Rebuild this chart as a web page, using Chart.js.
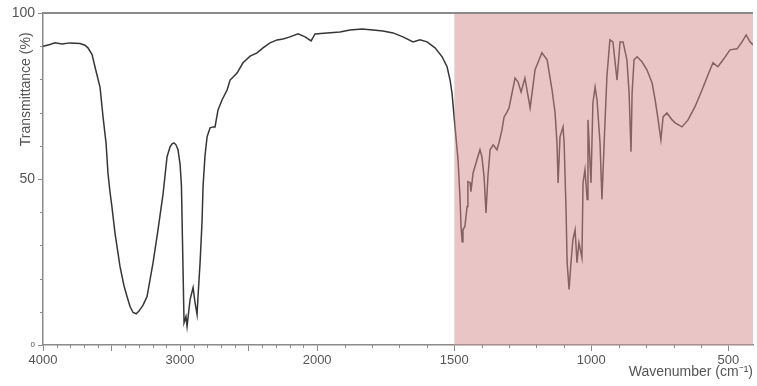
<!DOCTYPE html>
<html>
<head>
<meta charset="utf-8">
<title>IR spectrum</title>
<script src="https://cdn.jsdelivr.net/npm/chart.js@4"></script>
<style>
    html, body { margin: 0; padding: 0; background: #fff; }
    #wrap { width: 757px; height: 386px; }
</style>
</head>
<body>
<div id="wrap"><canvas id="irChart" width="757" height="386"></canvas></div>
<script>
// wavenumbers (cm-1), high to low
const wavenumbers = [4000, 3949, 3912, 3861, 3803, 3730, 3694, 3672, 3642, 3621, 3584, 3562, 3540, 3526, 3511, 3497,
    3475, 3438, 3410, 3387, 3365, 3343, 3320, 3300, 3270, 3241, 3197, 3161, 3124, 3095, 3073, 3058, 3044, 3030, 3015,
    3000, 2990, 2978, 2971, 2957,
    2949, 2927, 2905, 2891, 2876, 2869, 2854, 2840, 2832, 2818, 2803, 2781, 2759, 2745, 2723, 2694, 2657, 2635, 2584,
    2541, 2489, 2438, 2395, 2344, 2292, 2249, 2198, 2139, 2088, 2044, 2015, 1964, 1917, 1880, 1836, 1796, 1760, 1723,
    1687, 1650, 1625, 1599, 1570, 1544, 1526, 1515, 1508, 1497, 1486, 1479, 1475, 1471, 1468, 1461, 1453, 1450, 1442,
    1439, 1431, 1417, 1406, 1399, 1391, 1384, 1377, 1369, 1358, 1344, 1337, 1326, 1318, 1307, 1300, 1289, 1278, 1267,
    1256, 1242, 1223, 1205, 1180, 1161, 1143, 1132, 1125, 1121, 1114, 1103, 1099, 1092, 1088, 1081, 1074, 1067, 1059,
    1052, 1045, 1034, 1030, 1023, 1015, 1012, 1001, 994, 986, 979, 968, 961, 953, 943, 932, 921, 906, 895, 884, 870,
    862, 855, 851, 844, 833, 815, 797, 778, 767, 756, 746, 738, 724, 705, 694, 669, 647, 622, 596, 574, 556, 538, 519,
    494, 468, 450, 435, 421, 410];

// transmittance (%)
const transmittance = [90, 90.5, 91, 90.7, 91, 90.8, 90.3, 89.5, 87.5, 83.8, 77.7, 68.7, 60.8, 51.8, 46, 41.6,
    33.8, 23.6, 18, 14.6, 11.6, 9.8, 9.4, 10.2, 12, 14.6, 24.8, 34.7, 45.5, 56.7, 59.7, 60.6, 60.9, 60.3, 58.8,
    54.5, 48, 22, 6.7, 8.6,
    5.6, 13.7, 17.3, 12.8, 9.2, 14.6, 24.8, 36.8, 48, 57, 62.7, 65.4, 65.7, 65.7, 70.8, 73.8, 76.8, 79.8, 81.9,
    85, 87, 88, 89.5, 91, 91.9, 92.2, 92.8, 93.7, 92.8, 91.6, 93.7, 94.0, 94.3, 94.9, 95.2, 94.9, 94.6, 94,
    92.8, 91.3, 91.9, 91.3, 89.5, 86.8, 83.8, 79.8, 75.9, 65.7, 55.8, 44.7, 35.7, 31.1, 34.7, 35.7, 41.7, 49.2, 48.9,
    46.2, 51.8, 55.8, 58.8, 56.7, 50.7, 39.8, 50.7, 58.8, 60.3, 58.8, 60.8, 64.7, 68.7, 70.2, 71.4, 75.9, 80.4, 79.2,
    76.2, 80.4, 71.4, 82.9, 88, 85.9, 76.8, 69.9, 60.8, 48.8, 62.7, 65.7, 60.8, 40.8, 24.8, 16.7, 24.8, 31.7, 34.7,
    24.8, 30.8, 26.3, 48.8, 52.8, 43.8, 67.8, 48.8, 72.9, 77.7, 73.8, 60.8, 43.8, 60.8, 80.8, 91.9, 91.3, 79.8, 91.3, 91.3, 85.9,
    75.9, 58.2, 75.9, 85.9, 86.8, 85.3, 82.9, 78.9, 73.8, 67.8, 61.8, 68.7, 69.9, 67.8, 66.9, 65.7, 67.8, 71.7, 76.8, 81.4, 85, 83.8, 85.9,
    88.9, 89.2, 91.3, 93.4, 91.3, 90.4];

const xTickLabels = [4000, 3000, 2000, 1500, 1000, 500];
const yTickLabels = [0, 50, 100];
const shadedRange = [1500, 410];   // fingerprint region
const xRange = [4000, 410];

// axis is compressed 2x above 2000 cm-1
function toPos(w) {
    return w >= 2000 ? (4000 - w) / 2 : 1000 + (2000 - w);
}
function fromPos(p) {
    return p <= 1000 ? 4000 - 2 * p : 3000 - p;
}

const axisGray = '#8a8a8a';
const textGray = '#555';

// short minor ticks + top frame line
const frameAndMinorTicks = {
    id: 'frameAndMinorTicks',
    afterDraw(chart) {
        const { ctx, chartArea, scales } = chart;
        ctx.save();
        ctx.strokeStyle = axisGray;
        ctx.lineWidth = 1;
        ctx.beginPath();
        for (let w = 3900; w >= 500; w -= 100) {
            if (w % 500 === 0) continue;
            const px = Math.round(scales.x.getPixelForValue(toPos(w))) + 0.5;
            ctx.moveTo(px, chartArea.bottom);
            ctx.lineTo(px, chartArea.bottom + 3);
        }
        for (let v = 10; v < 100; v += 10) {
            if (v === 50) continue;
            const py = Math.round(scales.y.getPixelForValue(v)) + 0.5;
            ctx.moveTo(chartArea.left - 3, py);
            ctx.lineTo(chartArea.left, py);
        }
        ctx.stroke();
        ctx.lineWidth = 2;
        ctx.beginPath();
        ctx.moveTo(chartArea.left, chartArea.top);
        ctx.lineTo(chartArea.right, chartArea.top);
        ctx.stroke();
        ctx.restore();
    }
};

const spectrum = wavenumbers.map((w, i) => ({ x: toPos(w), y: transmittance[i] }));
const band = shadedRange.map(w => ({ x: toPos(w), y: 100 }));

const ctx = document.getElementById('irChart').getContext('2d');
new Chart(ctx, {
    type: 'line',
    data: {
        datasets: [
            {
                label: 'Spectrum',
                data: spectrum,
                borderColor: '#363636',
                borderWidth: 1.5,
                pointRadius: 0,
                tension: 0,
                fill: false,
                order: 1
            },
            {
                label: 'Fingerprint region',
                data: band,
                borderWidth: 0,
                borderColor: 'rgba(0,0,0,0)',
                backgroundColor: 'rgba(212,140,142,0.5)',
                pointRadius: 0,
                fill: 'origin',
                order: 0
            }
        ]
    },
    options: {
        responsive: false,
        animation: false,
        layout: { padding: { top: 13, right: 4, left: 0, bottom: 0 } },
        plugins: {
            legend: { display: false },
            tooltip: { enabled: false }
        },
        scales: {
            x: {
                type: 'linear',
                min: toPos(xRange[0]),
                max: toPos(xRange[1]),
                afterBuildTicks: (scale) => {
                    const majors = [];
                    for (let w = 4000; w >= 500; w -= 500) majors.push({ value: toPos(w) });
                    scale.ticks = majors;
                },
                afterFit: (scale) => { scale.height = 41; },
                ticks: {
                    autoSkip: false,
                    maxRotation: 0,
                    padding: 2,
                    color: textGray,
                    font: { family: 'Liberation Sans', size: 13 },
                    callback: (value) => {
                        const w = Math.round(fromPos(value));
                        return xTickLabels.includes(w) ? String(w) : '';
                    }
                },
                grid: { drawOnChartArea: false, tickLength: 6, tickColor: axisGray, tickWidth: 1 },
                border: { display: true, color: axisGray, width: 1.5 },
                title: {
                    display: true,
                    text: 'Wavenumber (cm\u207B\u00B9)',
                    align: 'end',
                    color: textGray,
                    font: { family: 'Liberation Sans', size: 14 },
                    padding: { top: 0, bottom: 5 }
                }
            },
            y: {
                min: 0,
                max: 100,
                afterBuildTicks: (scale) => {
                    scale.ticks = yTickLabels.map(v => ({ value: v }));
                },
                afterFit: (scale) => { scale.width = 43; },
                ticks: {
                    padding: 3,
                    color: textGray,
                    font: (c) => ({ family: 'Liberation Sans', size: c.tick && c.tick.value === 0 ? 8 : 14 })
                },
                grid: { drawOnChartArea: false, tickLength: 5, tickColor: axisGray, tickWidth: 1 },
                border: { display: true, color: axisGray, width: 1.5 },
                title: {
                    display: true,
                    text: 'Transmittance (%)     ',
                    align: 'end',
                    color: textGray,
                    font: { family: 'Liberation Sans', size: 14 },
                    padding: { top: 18, bottom: 0 }
                }
            }
        }
    },
    plugins: [frameAndMinorTicks]
});
</script>
</body>
</html>
